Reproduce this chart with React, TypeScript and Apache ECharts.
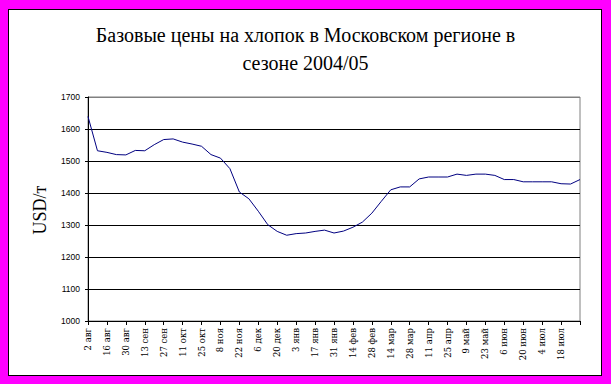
import React, { useEffect, useRef } from "react";
import * as echarts from "echarts";

const weeks: string[] = [
  "2 авг", "9 авг", "16 авг", "23 авг", "30 авг",
  "6 сен", "13 сен", "20 сен", "27 сен",
  "4 окт", "11 окт", "18 окт", "25 окт",
  "1 ноя", "8 ноя", "15 ноя", "22 ноя", "29 ноя",
  "6 дек", "13 дек", "20 дек", "27 дек",
  "3 янв", "10 янв", "17 янв", "24 янв", "31 янв",
  "7 фев", "14 фев", "21 фев", "28 фев",
  "7 мар", "14 мар", "21 мар", "28 мар",
  "4 апр", "11 апр", "18 апр", "25 апр",
  "2 май", "9 май", "16 май", "23 май", "30 май",
  "6 июн", "13 июн", "20 июн", "27 июн",
  "4 июл", "11 июл", "18 июл", "25 июл",
  "1 авг",
];

const prices: number[] = [
  1639, 1532, 1527, 1520, 1519, 1533, 1532, 1551, 1567, 1569,
  1559, 1553, 1546, 1520, 1509, 1476, 1403, 1382, 1343, 1301,
  1280, 1268, 1273, 1275, 1280, 1284, 1275, 1281, 1293, 1309,
  1337, 1374, 1410, 1419, 1419, 1444, 1450, 1450, 1450, 1459,
  1455, 1459, 1459, 1455, 1442, 1442, 1435, 1435, 1435, 1435,
  1429, 1428, 1442,
];

const titleLine1 = "Базовые цены на хлопок в Московском регионе в";
const titleLine2 = "сезоне 2004/05";
const yTitle = "USD/т";

export default function App() {
  const ref = useRef<HTMLDivElement>(null);

  useEffect(() => {
    if (!ref.current) return;
    const chart = echarts.init(ref.current, null, { renderer: "svg" });
    const lastIdx = weeks.length - 1;
    chart.setOption({
      animation: false,
      backgroundColor: "transparent",
      graphic: [
        {
          type: "text",
          left: "center",
          top: 25,
          style: {
            text: titleLine1,
            font: "20px 'Liberation Serif', serif",
            fill: "#000",
          },
        },
        {
          type: "text",
          left: "center",
          top: 53,
          style: {
            text: titleLine2,
            font: "20px 'Liberation Serif', serif",
            fill: "#000",
          },
        },
        {
          type: "text",
          x: 40,
          y: 210,
          rotation: Math.PI / 2,
          style: {
            text: yTitle,
            font: "18px 'Liberation Serif', serif",
            fill: "#000",
            align: "center",
            verticalAlign: "middle",
          },
        },
      ],
      grid: {
        left: 88,
        right: 31,
        top: 97,
        bottom: 63,
        show: true,
        borderColor: "#808080",
        borderWidth: 1,
        backgroundColor: "transparent",
      },
      xAxis: {
        type: "category",
        data: weeks,
        boundaryGap: false,
        axisLine: { show: true, lineStyle: { color: "#000", width: 1 } },
        axisTick: {
          show: true,
          interval: 1,
          length: 4,
          lineStyle: { color: "#000" },
        },
        axisLabel: {
          interval: 1,
          rotate: 90,
          margin: 7,
          fontSize: 8.5,
          fontFamily: "'DejaVu Serif', serif",
          color: "#000",
          formatter: (v: string, i: number) => (i === lastIdx ? "" : v),
        },
        splitLine: { show: false },
      },
      yAxis: {
        type: "value",
        min: 1000,
        max: 1700,
        interval: 100,
        axisLine: { show: true, lineStyle: { color: "#000", width: 1 } },
        axisTick: { show: true, length: 3, lineStyle: { color: "#000" } },
        axisLabel: {
          margin: 8,
          fontSize: 8.5,
          fontFamily: "'Liberation Sans Narrow', 'Liberation Sans', Arial, sans-serif",
          color: "#000",
          formatter: (v: number) => String(v),
        },
        splitLine: {
          show: true,
          lineStyle: {
            color: ["#000", "#000", "#000", "#000", "#000", "#000", "#000", "#808080"],
            width: 1,
          },
        },
      },
      series: [
        {
          type: "line",
          data: prices,
          symbol: "none",
          lineStyle: { color: "#000080", width: 1 },
        },
      ],
    });
    return () => chart.dispose();
  }, []);

  return (
    <div
      style={{
        position: "absolute",
        left: 0,
        top: 0,
        width: 611,
        height: 384,
        background: "#ff00ff",
      }}
    >
      <div
        style={{
          position: "absolute",
          left: 8,
          top: 9,
          width: 594,
          height: 367,
          background: "#fff",
          border: "1px solid #000",
          boxSizing: "border-box",
        }}
      />
      <div
        ref={ref}
        style={{ position: "absolute", left: 0, top: 0, width: 611, height: 384 }}
      />
    </div>
  );
}
